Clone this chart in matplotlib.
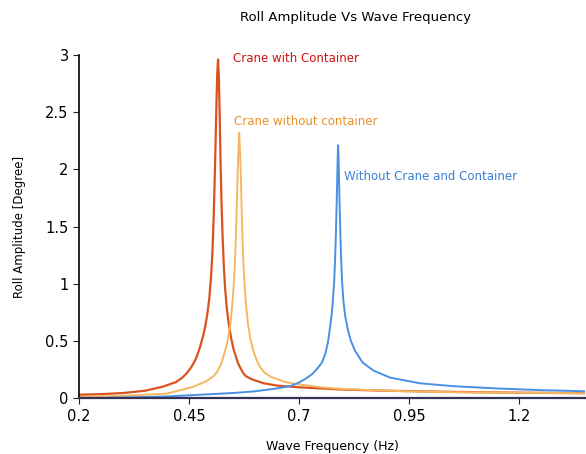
import matplotlib.pyplot as plt

# values
red_x = [0.20, 0.25, 0.30, 0.35, 0.39, 0.42, 0.435, 0.445, 0.455, 0.465, 0.471, 0.476,
         0.481, 0.486, 0.491, 0.496, 0.500, 0.503, 0.506, 0.508, 0.510, 0.512, 0.514,
         0.516, 0.518, 0.520, 0.522, 0.524, 0.526, 0.529, 0.532, 0.536, 0.541, 0.546,
         0.551, 0.556, 0.561, 0.566, 0.573, 0.58, 0.59, 0.60, 0.62, 0.65, 0.70, 0.80,
         0.90, 1.00, 1.10, 1.20, 1.35]
red_y = [0.03, 0.035, 0.045, 0.065, 0.10, 0.14, 0.18, 0.22, 0.27, 0.34, 0.40, 0.46,
         0.53, 0.61, 0.72, 0.87, 1.06, 1.26, 1.58, 1.86, 2.18, 2.52, 2.83,
         2.96, 2.79, 2.40, 2.0, 1.69, 1.44, 1.16, 0.96, 0.78, 0.63, 0.52,
         0.43, 0.37, 0.31, 0.27, 0.22, 0.19, 0.17, 0.155, 0.13, 0.11, 0.095, 0.075,
         0.065, 0.058, 0.052, 0.048, 0.043]

orange_x = [0.20, 0.30, 0.40, 0.46, 0.49, 0.505, 0.514, 0.524, 0.534, 0.539, 0.544, 0.548,
            0.551, 0.554, 0.556, 0.558, 0.560, 0.562, 0.564, 0.566, 0.568, 0.570,
            0.572, 0.574, 0.577, 0.580, 0.584, 0.589, 0.595, 0.600, 0.605, 0.612, 0.62,
            0.63, 0.64, 0.67, 0.70, 0.75, 0.80, 0.90, 1.00, 1.10, 1.20, 1.35]
orange_y = [0.01, 0.02, 0.04, 0.10, 0.15, 0.19, 0.23, 0.31, 0.44, 0.53, 0.65, 0.8,
            0.95, 1.15, 1.35, 1.6, 1.9, 2.15, 2.32, 2.15, 1.9, 1.6,
            1.35, 1.15, 0.95, 0.8, 0.65, 0.53, 0.43, 0.37, 0.32, 0.27, 0.23,
            0.2, 0.18, 0.14, 0.12, 0.095, 0.08, 0.065, 0.055, 0.05, 0.047, 0.043]

blue_x = [0.20, 0.30, 0.40, 0.45, 0.50, 0.55, 0.60, 0.65, 0.684, 0.702, 0.715, 0.73,
          0.742, 0.752, 0.760, 0.766, 0.770, 0.774, 0.777, 0.780, 0.782, 0.784, 0.786,
          0.788, 0.789, 0.790, 0.792, 0.794, 0.796, 0.798, 0.801, 0.805, 0.811, 0.818,
          0.828, 0.845, 0.87, 0.907, 0.975, 1.05, 1.15, 1.25, 1.35]
blue_y = [0.0, 0.005, 0.015, 0.025, 0.035, 0.045, 0.06, 0.085, 0.11, 0.14, 0.17, 0.21,
          0.26, 0.31, 0.39, 0.49, 0.6, 0.72, 0.85, 1.02, 1.2, 1.45, 1.75,
          2.1, 2.21, 2.1, 1.75, 1.45, 1.2, 1.02, 0.85, 0.72, 0.6, 0.5,
          0.41, 0.31, 0.24, 0.18, 0.13, 0.105, 0.085, 0.07, 0.06]

xticks = [0.2, 0.45, 0.7, 0.95, 1.2]
yticks = [0, 0.5, 1, 1.5, 2, 2.5, 3]
ytick_labels = ['0', '0.5', '1', '1.5', '2', '2.5', '3']

fig = plt.figure(figsize=(5.86, 4.54), dpi=100)
ax = fig.add_axes([0.135, 0.123, 0.863, 0.756])

ax.plot(red_x, red_y, color='#d9531e', lw=1.6)
ax.plot(orange_x, orange_y, color='#f5b860', lw=1.4)
ax.plot(blue_x, blue_y, color='#4a90e2', lw=1.4)

ax.text(0.551, 2.97, 'Crane with Container', color='#d01010', fontsize=8.5,
        va='center', ha='left')
ax.text(0.553, 2.42, 'Crane without container', color='#e8902a', fontsize=8.5,
        va='center', ha='left')
ax.text(0.802, 1.94, 'Without Crane and Container', color='#3a7fd5', fontsize=8.5,
        va='center', ha='left')

ax.set_xlim(0.2, 1.35)
ax.set_ylim(0, 3)
ax.set_xticks(xticks)
ax.set_xticklabels([str(t) for t in xticks])
ax.set_yticks(yticks)
ax.set_yticklabels(ytick_labels)
ax.tick_params(labelsize=10.5, length=4, color='#222222')

for s in ['top', 'right']:
    ax.spines[s].set_visible(False)
ax.spines['left'].set_linewidth(1.2)
ax.spines['bottom'].set_linewidth(1.6)
ax.spines['bottom'].set_color('#333355')

fig.text(0.606, 0.962, 'Roll Amplitude Vs Wave Frequency', ha='center', va='center',
         fontsize=9.5)
ax.set_xlabel('Wave Frequency (Hz)', fontsize=9, labelpad=12)
ax.set_ylabel('Roll Amplitude [Degree]', fontsize=8.5, labelpad=14)

fig.savefig('out.png', dpi=100)
plt.close(fig)
